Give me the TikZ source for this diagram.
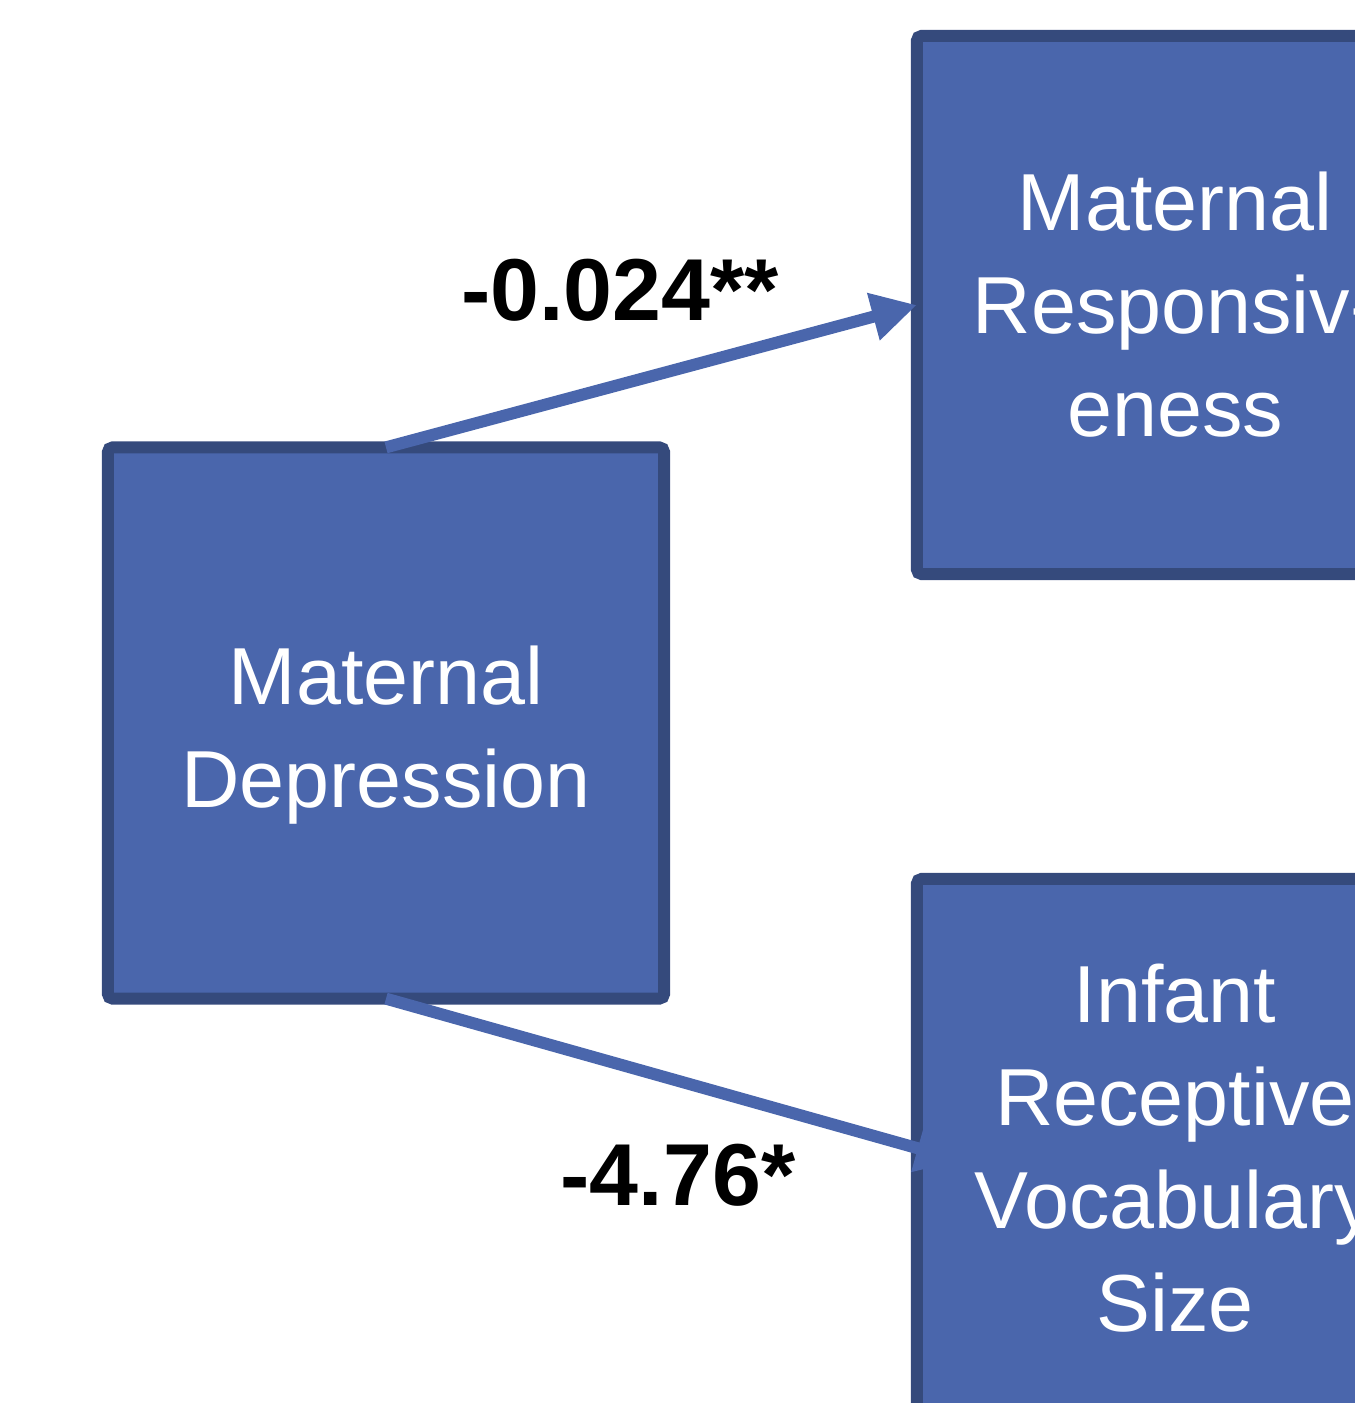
\documentclass[tikz,border=0pt]{standalone}
\usepackage{fontspec}
\setmainfont{Liberation Sans}
\usetikzlibrary{arrows.meta}
\definecolor{boxfill}{RGB}{74,102,172}
\definecolor{boxline}{RGB}{53,74,124}

\begin{document}
\begin{tikzpicture}[x=0.01cm,y=-0.01cm]
        \tikzstyle{varbox}=[draw=boxline,fill=boxfill,line width=0.12cm,rounded corners=0.05cm,outer sep=0pt,
            text=white,align=center,font=\fontsize{23}{29.3}\selectfont,minimum width=5.16cm,minimum height=5.38cm]
        \tikzstyle{path}=[draw=boxfill,line width=0.12cm,-{Triangle[length=0.45cm,width=0.46cm]}]
        \tikzstyle{coef}=[font=\bfseries\fontsize{25}{28}\selectfont]
        \useasboundingbox (0,0) rectangle (1355,1403);
        \node[varbox,minimum width=5.56cm,minimum height=5.51cm] (md) at (386,723) {\\[-0.2cm]Maternal\\Depression};
        \node[varbox] (mr) at (1175,305) {Maternal\\Responsiv-\\eness};
        \node[varbox] (irv) at (1175,1148) {Infant\\Receptive\\Vocabulary\\Size};
        \draw[path] (md.north) -- (mr.west);
        \draw[path,shorten >=-0.46cm] (md.south) -- (irv.west);
        \node[coef] (a) at (620,290) {-0.024**};
        \node[coef] (b) at (678,1175) {-4.76*};
    \end{tikzpicture}
\end{document}
